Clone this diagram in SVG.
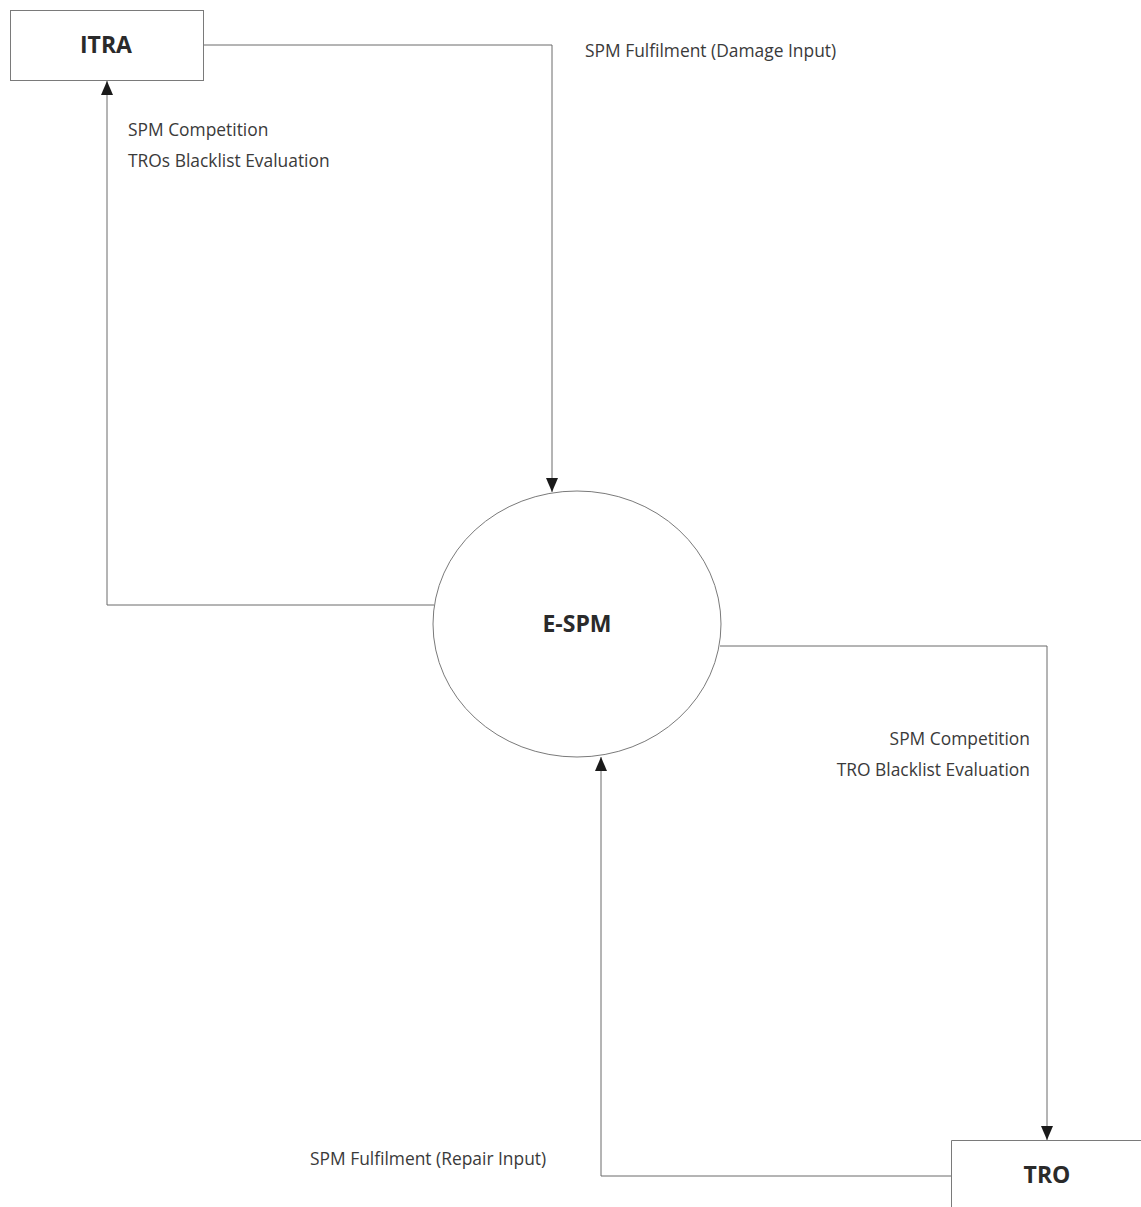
<svg xmlns="http://www.w3.org/2000/svg" width="1141" height="1207" viewBox="0 0 1141 1207">
<style>
.box{fill:#fff;stroke:#7a7a7a;stroke-width:1}
.ln{fill:none;stroke:#6a6a6a;stroke-width:1}
.lbl{font-family:"Open Sans","Noto Sans",sans-serif;font-size:17.4px;fill:#3a3a3a}
.title{font-family:"Open Sans","Noto Sans",sans-serif;font-size:23px;font-weight:bold;fill:#2a2a2a;text-anchor:middle}
</style>
<defs>
<marker id="arr" viewBox="0 0 14 14" refX="14" refY="7" markerWidth="14" markerHeight="14" markerUnits="userSpaceOnUse" orient="auto">
<path d="M0,1 L14,7 L0,13 Z" fill="#1a1a1a"/>
</marker>
</defs>
<rect width="1141" height="1207" fill="#fff"/>
<g id="connectors">
<path class="ln" d="M203,45 H552 V492" marker-end="url(#arr)"/>
<path class="ln" d="M434,605 H107 V81" marker-end="url(#arr)"/>
<path class="ln" d="M720,646 H1047 V1140" marker-end="url(#arr)"/>
<path class="ln" d="M951,1176 H601 V757" marker-end="url(#arr)"/>
<text class="lbl" x="585" y="57">SPM Fulfilment (Damage Input)</text>
<text class="lbl" x="128" y="136">SPM Competition</text>
<text class="lbl" x="128" y="167">TROs Blacklist Evaluation</text>
<text class="lbl" x="1030" y="745" text-anchor="end">SPM Competition</text>
<text class="lbl" x="1030" y="776" text-anchor="end">TRO Blacklist Evaluation</text>
<text class="lbl" x="310" y="1165">SPM Fulfilment (Repair Input)</text>
</g>
<g id="ITRA">
<rect class="box" x="10.5" y="10.5" width="193" height="70"/>
<text class="title" x="106" y="53">ITRA</text>
</g>
<g id="E-SPM">
<ellipse class="box" cx="577" cy="624" rx="144" ry="133"/>
<text class="title" x="577" y="632">E-SPM</text>
</g>
<g id="TRO">
<path class="box" d="M951.5,1207 V1140.5 H1141" fill="none"/>
<text class="title" x="1047" y="1183">TRO</text>
</g>
</svg>
